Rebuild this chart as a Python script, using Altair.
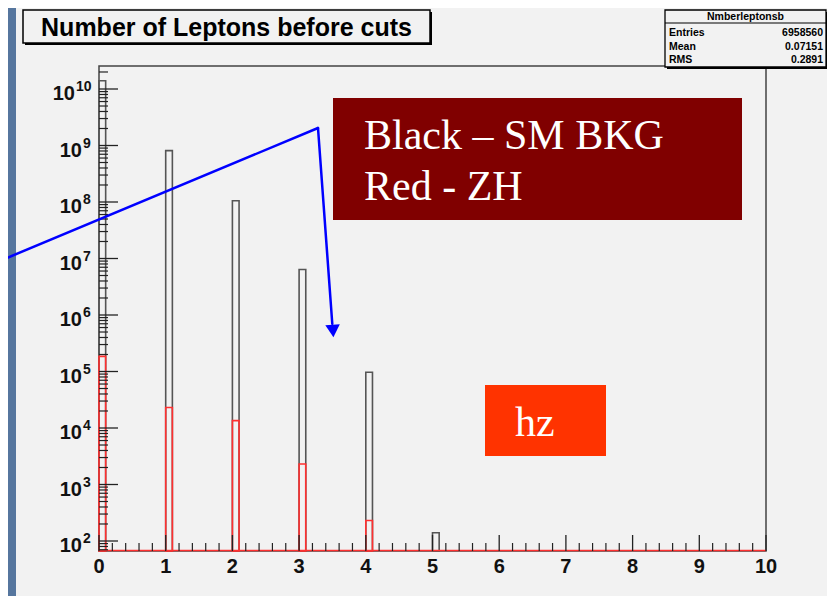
import altair as alt
import pandas as pd

# ---------------- data ----------------
bin_starts = [0, 1, 2, 3, 4, 5]
sm_bkg_counts = [1.4e10, 8.1e8, 1.05e8, 6.4e6, 9.7e4, 140]
zh_counts = [1.85e5, 2.3e4, 1.35e4, 2.3e3, 230, 0]
bin_width = 0.1
x_tick_labels = list(range(0, 11))
y_decades = list(range(2, 11))
title_text = "Number of Leptons before cuts"
stats_name = "Nmberleptonsb"
stats_labels = ["Entries", "Mean", "RMS"]
stats_values = ["6958560", "0.07151", "0.2891"]
legend_lines = ["Black \u2013 SM BKG", "Red - ZH"]
tag_text = "hz"

# ---------------- layout ----------------
W, H = 667, 485
DEC = 56.5
YMIN = 10 ** (2 - 10 / DEC)
YMAX = 10 ** (2 - 10 / DEC + H / DEC)
SANS = "Liberation Sans"
SERIF = "Liberation Serif"
BG = "#f2f2f2"
SLIDE = "#56769e"

xscale = alt.Scale(domain=[0, 10], nice=False, zero=False)
yscale = alt.Scale(type="log", domain=[YMIN, YMAX], nice=False)

one = pd.DataFrame({"k": [0]})


def box(x, x2, y, y2, **kw):
    return alt.Chart(one).mark_rect(**kw).encode(
        x=alt.value(x), x2=alt.value(x2), y=alt.value(y), y2=alt.value(y2)
    )


def label(text, x, y, **kw):
    return alt.Chart(one).mark_text(text=text, baseline="alphabetic", **kw).encode(
        x=alt.value(x), y=alt.value(y)
    )


# ---------------- histogram ----------------
hist = pd.DataFrame({
    "bin": bin_starts * 2,
    "count": sm_bkg_counts + zh_counts,
    "sample": ["SM BKG"] * len(bin_starts) + ["ZH"] * len(bin_starts),
})
hist = hist[hist["count"] > 0]

bars = alt.Chart(hist).transform_calculate(
    bin_end=f"datum.bin + {bin_width}"
).mark_rect(fill="transparent", strokeWidth=1.6).encode(
    x=alt.X("bin:Q", scale=xscale, axis=None),
    x2="bin_end:Q",
    y=alt.Y("count:Q", scale=yscale, axis=None),
    y2=alt.value(H),
    stroke=alt.Stroke("sample:N",
                      scale=alt.Scale(domain=["SM BKG", "ZH"], range=["#555555", "#ff3030"]),
                      legend=None),
)

red_base = alt.Chart(pd.DataFrame({"x0": [x_tick_labels[0]], "x1": [x_tick_labels[-1]]})).mark_rule(
    color="#ff3030", strokeWidth=1.6
).encode(x=alt.X("x0:Q", scale=xscale, axis=None), x2="x1:Q", y=alt.value(H - 0.5))

# ---------------- axes drawn by hand (ROOT style, ticks inside) ----------------
xt = pd.DataFrame({"v": x_tick_labels})
x_major = alt.Chart(xt).mark_rule(color="#222", strokeWidth=1.3).encode(
    x=alt.X("v:Q", scale=xscale, axis=None), y=alt.value(H), y2=alt.value(H - 16)
)
x_minor_vals = [i + f for i in range(10) for f in (0.2, 0.4, 0.6, 0.8)]
x_minor = alt.Chart(pd.DataFrame({"v": x_minor_vals})).mark_rule(color="#222", strokeWidth=1.2).encode(
    x=alt.X("v:Q", scale=xscale, axis=None), y=alt.value(H), y2=alt.value(H - 8)
)
x_labels = alt.Chart(xt).mark_text(
    font=SANS, fontWeight="bold", fontSize=20, baseline="alphabetic", color="#111"
).encode(x=alt.X("v:Q", scale=xscale, axis=None), y=alt.value(H + 22), text="v:Q")

yt = pd.DataFrame({"e": y_decades})
y_major = alt.Chart(yt).transform_calculate(val="pow(10, datum.e)").mark_rule(
    color="#222", strokeWidth=1.3
).encode(y=alt.Y("val:Q", scale=yscale, axis=None), x=alt.value(0), x2=alt.value(19))
y_minor_vals = [k * 10 ** e for e in range(1, 11) for k in range(2, 10)
                if YMIN <= k * 10 ** e <= YMAX]
y_minor = alt.Chart(pd.DataFrame({"v": y_minor_vals})).mark_rule(color="#222", strokeWidth=1.2).encode(
    y=alt.Y("v:Q", scale=yscale, axis=None), x=alt.value(0), x2=alt.value(9)
)


def y_label_layers(cond, xpos):
    base = alt.Chart(yt).transform_filter(cond).transform_calculate(
        val="pow(10, datum.e)", et="'' + datum.e"
    )
    main = base.mark_text(text="10", font=SANS, fontWeight="bold", fontSize=20,
                          align="right", baseline="alphabetic", dy=11, color="#111").encode(
        y=alt.Y("val:Q", scale=yscale, axis=None), x=alt.value(xpos))
    sup = base.mark_text(font=SANS, fontWeight="bold", fontSize=14,
                         align="left", baseline="alphabetic", dy=2, dx=1, color="#111").encode(
        y=alt.Y("val:Q", scale=yscale, axis=None), x=alt.value(xpos), text="et:N")
    return [main, sup]


y_labels = y_label_layers("datum.e < 10", -17) + y_label_layers("datum.e >= 10", -24)

# ---------------- decorations ----------------
left_strip = box(-91, -83, -58, 530, color=SLIDE)

title_layers = [
    box(-74, 333, -54, -21, color="#000"),
    box(-76, 331, -56, -23, fill=BG, stroke="#000", strokeWidth=1.5),
    label(title_text, 127.5, -30, font=SANS, fontWeight="bold", fontSize=25,
          align="center", color="#000"),
]

stats_layers = [
    box(568, 729, -54, 3, color="#000"),
    box(566, 727, -56, 1, fill=BG, stroke="#000", strokeWidth=1.3),
    alt.Chart(one).mark_rule(color="#000", strokeWidth=1).encode(
        x=alt.value(566), x2=alt.value(727), y=alt.value(-43)),
    label(stats_name, 646.5, -46.5, font=SANS, fontWeight="bold", fontSize=10.5,
          align="center", color="#000"),
]
for i, (lab, val) in enumerate(zip(stats_labels, stats_values)):
    yb = -30 + i * 13.5
    stats_layers.append(label(lab, 570, yb, font=SANS, fontWeight="bold", fontSize=10.5,
                              align="left", color="#000"))
    stats_layers.append(label(val, 724, yb, font=SANS, fontWeight="bold", fontSize=10.5,
                              align="right", color="#000"))

legend_layers = [
    box(234, 643, 32, 154, color="#800000"),
    label(legend_lines[0], 265, 83, font=SERIF, fontSize=42, align="left", color="#ffffff"),
    label(legend_lines[1], 265, 134, font=SERIF, fontSize=42, align="left", color="#ffffff"),
]

tag_layers = [
    box(386, 507, 319, 390, color="#ff3300"),
    label(tag_text, 416, 370, font=SERIF, fontSize=42, align="left", color="#ffffff"),
]

arrow_layers = [
    alt.Chart(one).mark_rule(color="#0000ff", strokeWidth=2.5, strokeCap="round").encode(
        x=alt.value(-91), y=alt.value(191.5), x2=alt.value(219), y2=alt.value(62)),
    alt.Chart(one).mark_rule(color="#0000ff", strokeWidth=2.5, strokeCap="round").encode(
        x=alt.value(219), y=alt.value(62), x2=alt.value(233.3), y2=alt.value(258)),
    alt.Chart(one).mark_point(shape="triangle-down", filled=True, color="#0000ff",
                              size=210, angle=356, opacity=1).encode(
        x=alt.value(234), y=alt.value(265)),
]

chart = alt.layer(
    left_strip,
    bars, red_base,
    x_major, x_minor, x_labels,
    y_major, y_minor, *y_labels,
    *title_layers,
    *stats_layers,
    *legend_layers,
    *tag_layers,
    *arrow_layers,
).properties(
    width=W, height=H,
    padding={"left": 91, "top": 58, "right": 61, "bottom": 45},
    autosize=alt.AutoSizeParams(type="none"),
    background=BG,
).configure_view(stroke="#444", strokeWidth=1.5)

chart.save("out.html", embed_options={"renderer": "svg", "actions": False})
